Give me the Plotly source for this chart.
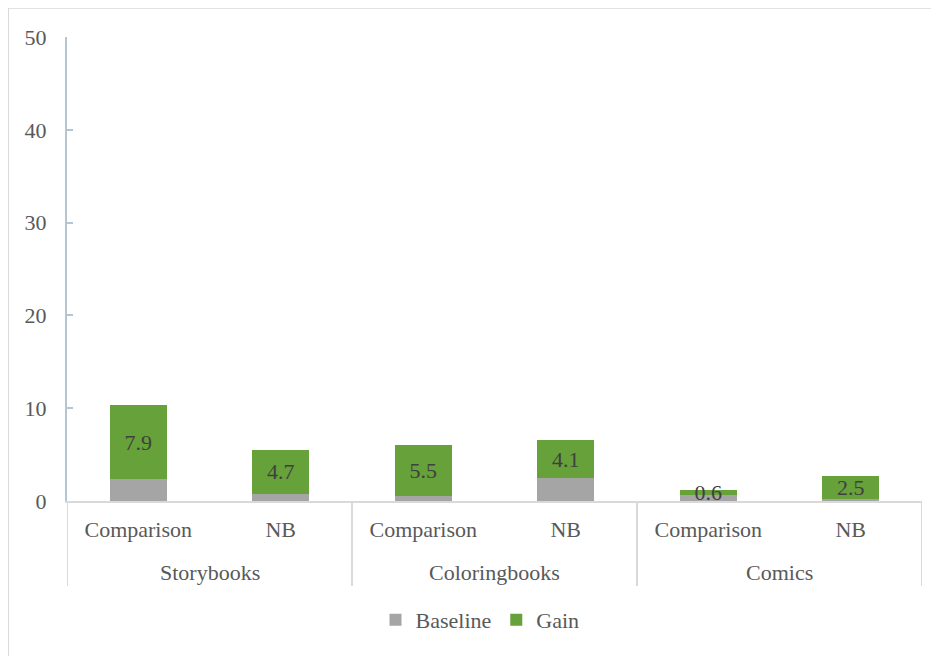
import plotly.graph_objects as go

groups = ["Storybooks", "Storybooks", "Coloringbooks", "Coloringbooks", "Comics", "Comics"]
conditions = ["Comparison", "NB", "Comparison", "NB", "Comparison", "NB"]
baseline = [2.4, 0.8, 0.5, 2.45, 0.6, 0.2]
gain = [7.9, 4.7, 5.5, 4.1, 0.6, 2.5]
gain_labels = ["7.9", "4.7", "5.5", "4.1", "0.6", "2.5"]
y_ticks = [0, 10, 20, 30, 40, 50]

FONT = "Liberation Serif, Times New Roman, DejaVu Serif, serif"
OFF = 8  # page body margin
W, H = 939 - OFF, 656 - OFF
ML, MR, MT, MB = 67 - OFF, 17, 37 - OFF, 155
PW, PH = W - ML - MR, H - MT - MB

def px_x(p):
    return (p - OFF - ML) / PW

def px_y(p):
    return (H - MB - (p - OFF)) / PH

pos = list(range(len(conditions)))

# group spans derived from the category list
group_names = []
for g in groups:
    if g not in group_names:
        group_names.append(g)
group_idx = {g: [i for i, gg in enumerate(groups) if gg == g] for g in group_names}

fig = go.Figure()
fig.add_trace(go.Bar(
    x=pos, y=baseline, name="Baseline", width=0.4,
    marker=dict(color="#a5a5a5", line=dict(width=0)),
))
fig.add_trace(go.Bar(
    x=pos, y=gain, name="Gain", width=0.4,
    marker=dict(color="#66a13a", line=dict(width=0)),
    text=gain_labels, textposition="inside", insidetextanchor="middle",
    constraintext="none", textangle=0,
    textfont=dict(family=FONT, size=22, color="#404040"),
))

div_color = "#d9d9d9"
shapes = []
annotations = []
edges = sorted({min(ix) - 0.5 for ix in group_idx.values()} | {max(ix) + 0.5 for ix in group_idx.values()})
for e in edges:
    shapes.append(dict(type="line", xref="x", yref="paper", x0=e, x1=e,
                       y0=0, y1=px_y(586), line=dict(color=div_color, width=2)))
for g, ix in group_idx.items():
    annotations.append(dict(x=sum(ix) / len(ix), xref="x", y=px_y(572), yref="paper",
                            text=g, showarrow=False, yanchor="middle", xanchor="center",
                            font=dict(family=FONT, size=22, color="#595959")))
shapes.append(dict(
    type="path", xref="paper", yref="paper",
    path=f"M {px_x(8.2)} {px_y(670)} L {px_x(8.2)} {px_y(8)} L {px_x(950)} {px_y(8)}",
    line=dict(color=div_color, width=1.5),
))

fig.update_layout(
    barmode="stack",
    width=W, height=H,
    margin=dict(l=ML, r=MR, t=MT, b=MB, autoexpand=False),
    paper_bgcolor="white", plot_bgcolor="white",
    font=dict(family=FONT, size=22, color="#595959"),
    showlegend=True,
    legend=dict(orientation="h", x=px_x(480), xanchor="center",
                y=px_y(599), yanchor="top",
                font=dict(family=FONT, size=22, color="#595959"),
                itemwidth=30, traceorder="normal"),
    xaxis=dict(
        range=[-0.5, len(pos) - 0.5], tickvals=pos, ticktext=conditions,
        showline=True, linecolor=div_color, linewidth=2, zeroline=False,
        showgrid=False, ticks="", ticklabelstandoff=8,
        tickfont=dict(family=FONT, size=22, color="#595959"),
    ),
    yaxis=dict(
        range=[0, 50], tickvals=y_ticks, showgrid=False, zeroline=False,
        showline=True, linecolor="#b4c6d4", linewidth=2,
        ticks="inside", ticklen=6, tickwidth=2, tickcolor="#b4c6d4",
        ticklabelstandoff=14,
        tickfont=dict(family=FONT, size=22, color="#595959"),
    ),
    shapes=shapes,
    annotations=annotations,
)

fig.write_html("out.html")
